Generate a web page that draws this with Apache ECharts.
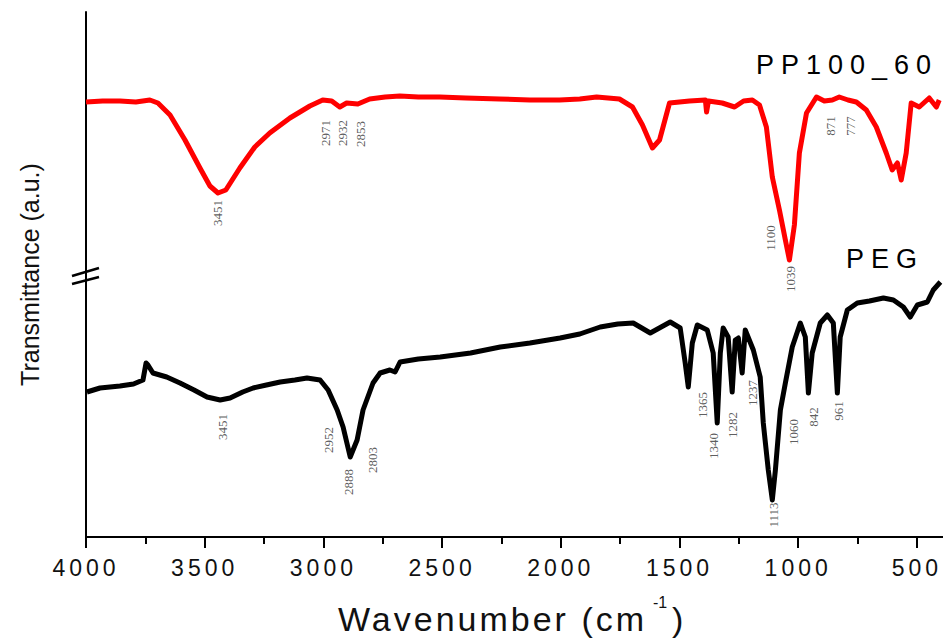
<!DOCTYPE html>
<html><head><meta charset="utf-8">
<script src="https://cdn.jsdelivr.net/npm/echarts@6/dist/echarts.min.js"></script>
<style>
html,body{margin:0;padding:0;background:#fff}
#c{width:943px;height:640px}
text[style*="lsTick"]{letter-spacing:4px}
text[style*="lsName"]{letter-spacing:7px}
text[style*="lsTitle"]{letter-spacing:3px}
</style></head><body><div id="c"></div>
<script>
// ---- axis ticks ----
const xTicks = [4000, 3500, 3000, 2500, 2000, 1500, 1000, 500];
const xMinorTicks = [3750, 3250, 2750, 2250, 1750, 1250, 750];

// ---- PP100_60 spectrum (wavenumber, transmittance a.u.) ----
const ppWavenumber = [4000,3930,3857,3790,3731,3697,3646,3583,3520,3478,3444,3411,3352,3289,3226,3141,3057,3003,2965,2931,2902,2855,2805,2740,2678,2600,2510,2400,2258,2130,2005,1920,1849,1753,1698,1656,1614,1584,1542,1500,1458,1391,1386,1378,1320,1268,1230,1193,1163,1134,1109,1079,1054,1037,1016,995,965,923,890,856,827,790,755,713,671,629,604,582,566,545,524,490,448,418,406];
const ppValue      = [435,436,436,435,437,434,422,397,369,351,344,347,369,390,404,419,431,437,436,430,434,433,438,440,441,440,440,439,438,437,437,438,440,438,430,412,389,397,434,435,436,437,425,436,434,430,436,437,432,410,360,327,297,277,312,384,424,440,436,437,440,437,435,427,410,384,367,374,357,384,434,430,439,430,437];

// ---- PEG spectrum ----
const pegWavenumber = [3996,3941,3857,3800,3760,3747,3739,3718,3660,3604,3545,3490,3435,3393,3340,3296,3240,3182,3120,3069,3014,2980,2942,2917,2887,2858,2833,2791,2761,2720,2698,2677,2600,2508,2380,2255,2130,2003,1920,1834,1760,1695,1623,1539,1497,1476,1463,1446,1425,1383,1358,1341,1328,1316,1295,1278,1265,1252,1236,1223,1189,1160,1147,1126,1109,1096,1075,1054,1025,991,970,957,941,907,877,852,835,823,793,751,700,641,599,557,528,498,456,431,401];
const pegValue      = [145,149,151,153,157,174,172,164,160,154,147,140,137,139,145,149,152,155,157,159,157,147,127,110,80,97,127,154,164,167,165,175,178,180,184,190,194,199,203,210,213,214,204,215,209,174,150,194,212,207,184,114,184,209,200,145,197,199,164,207,187,160,114,67,37,67,127,154,190,214,200,144,184,214,222,214,144,200,227,234,236,239,237,230,220,232,235,247,255];

// ---- peak annotations (text, wavenumber, value) ----
const ppPeakText = ['3451','2971','2932','2853','871','777','1100','1039'];
const ppPeakX    = [3444,2993,2921,2845,865,780,1118,1033];
const ppPeakY    = [324,404,404,403,411,411,299,258];
const pegPeakText = ['3451','2952','2888','2803','1365','1340','1282','1237','1060','842','961','1113'];
const pegPeakX    = [3427,2980,2896,2795,1404,1358,1278,1193,1021,936,831,1105];
const pegPeakY    = [110,97,55,77,132,91,112,144,105,120,126,22];

const seriesNames = ['PP100_60', 'PEG'];

const chart = echarts.init(document.getElementById('c'), null, {renderer: 'svg'});
const zip = (a, b) => a.map((v, i) => [v, b[i]]);
const zip3 = (t, a, b) => t.map((v, i) => [a[i], b[i], v]);
const annStyle = {
  show: true, position: 'inside', rotate: 90,
  formatter: p => p.value[2],
  fontFamily: 'Liberation Serif', fontSize: 13, color: '#333'
};

chart.setOption({
  animation: false,
  backgroundColor: '#fff',
  grid: {left: 86, right: 0, top: 12, bottom: 103, outerBoundsMode: 'none'},
  xAxis: [{
    type: 'value', min: 390, max: 4000, inverse: true,
    axisLine: {onZero: false, lineStyle: {color: '#000', width: 2}},
    axisTick: {show: true, customValues: xTicks, length: 11, lineStyle: {color: '#000', width: 2}},
    axisLabel: {customValues: xTicks, margin: 19, color: '#111', fontSize: 23,
      fontFamily: 'Liberation Sans, lsTick', formatter: v => String(v)},
    splitLine: {show: false}
  }, {
    type: 'value', min: 390, max: 4000, inverse: true, position: 'bottom',
    axisLine: {show: false, onZero: false},
    axisTick: {show: true, customValues: xMinorTicks, length: 7, lineStyle: {color: '#000', width: 2}},
    axisLabel: {show: false},
    splitLine: {show: false}
  }],
  yAxis: {
    type: 'value', min: 0, max: 525,
    name: 'Transmittance (a.u.)', nameLocation: 'middle', nameGap: 44, nameRotate: 90,
    nameTextStyle: {fontSize: 25, fontFamily: 'Liberation Sans', color: '#111'},
    axisLine: {show: true, lineStyle: {color: '#000', width: 2}},
    axisTick: {show: false}, axisLabel: {show: false}, splitLine: {show: false}
  },
  series: [{
    name: seriesNames[0], type: 'line', data: zip(ppWavenumber, ppValue),
    showSymbol: false, lineStyle: {color: '#ff0000', width: 5, join: 'round'}, itemStyle: {color: '#ff0000'}
  }, {
    name: seriesNames[1], type: 'line', data: zip(pegWavenumber, pegValue),
    showSymbol: false, lineStyle: {color: '#000', width: 5, join: 'round'}, itemStyle: {color: '#000'}
  }, {
    type: 'scatter', symbolSize: 0, silent: true, z: 5,
    data: zip3(ppPeakText, ppPeakX, ppPeakY), label: annStyle
  }, {
    type: 'scatter', symbolSize: 0, silent: true, z: 5,
    data: zip3(pegPeakText, pegPeakX, pegPeakY), label: annStyle
  }],
  graphic: [
    {type: 'text', left: 756, top: 51, style: {text: seriesNames[0], fontSize: 27, fontFamily: 'Liberation Sans, lsName', fill: '#000'}},
    {type: 'text', left: 846, top: 245, style: {text: seriesNames[1], fontSize: 27, fontFamily: 'Liberation Sans, lsName', fill: '#000'}},
    {type: 'text', left: 338, top: 602, style: {text: 'Wavenumber (cm', fontSize: 34, fontFamily: 'Liberation Sans, lsTitle', fill: '#111'}},
    {type: 'text', left: 653, top: 594, style: {text: '-1', fontSize: 16, fontFamily: 'Liberation Sans', fill: '#111'}},
    {type: 'text', left: 672, top: 602, style: {text: ')', fontSize: 34, fontFamily: 'Liberation Sans', fill: '#111'}},
    {type: 'line', shape: {x1: 72, y1: 276, x2: 99, y2: 268}, style: {stroke: '#000', lineWidth: 2.5}},
    {type: 'line', shape: {x1: 72, y1: 284, x2: 99, y2: 277}, style: {stroke: '#000', lineWidth: 2.5}}
  ]
});
</script></body></html>
